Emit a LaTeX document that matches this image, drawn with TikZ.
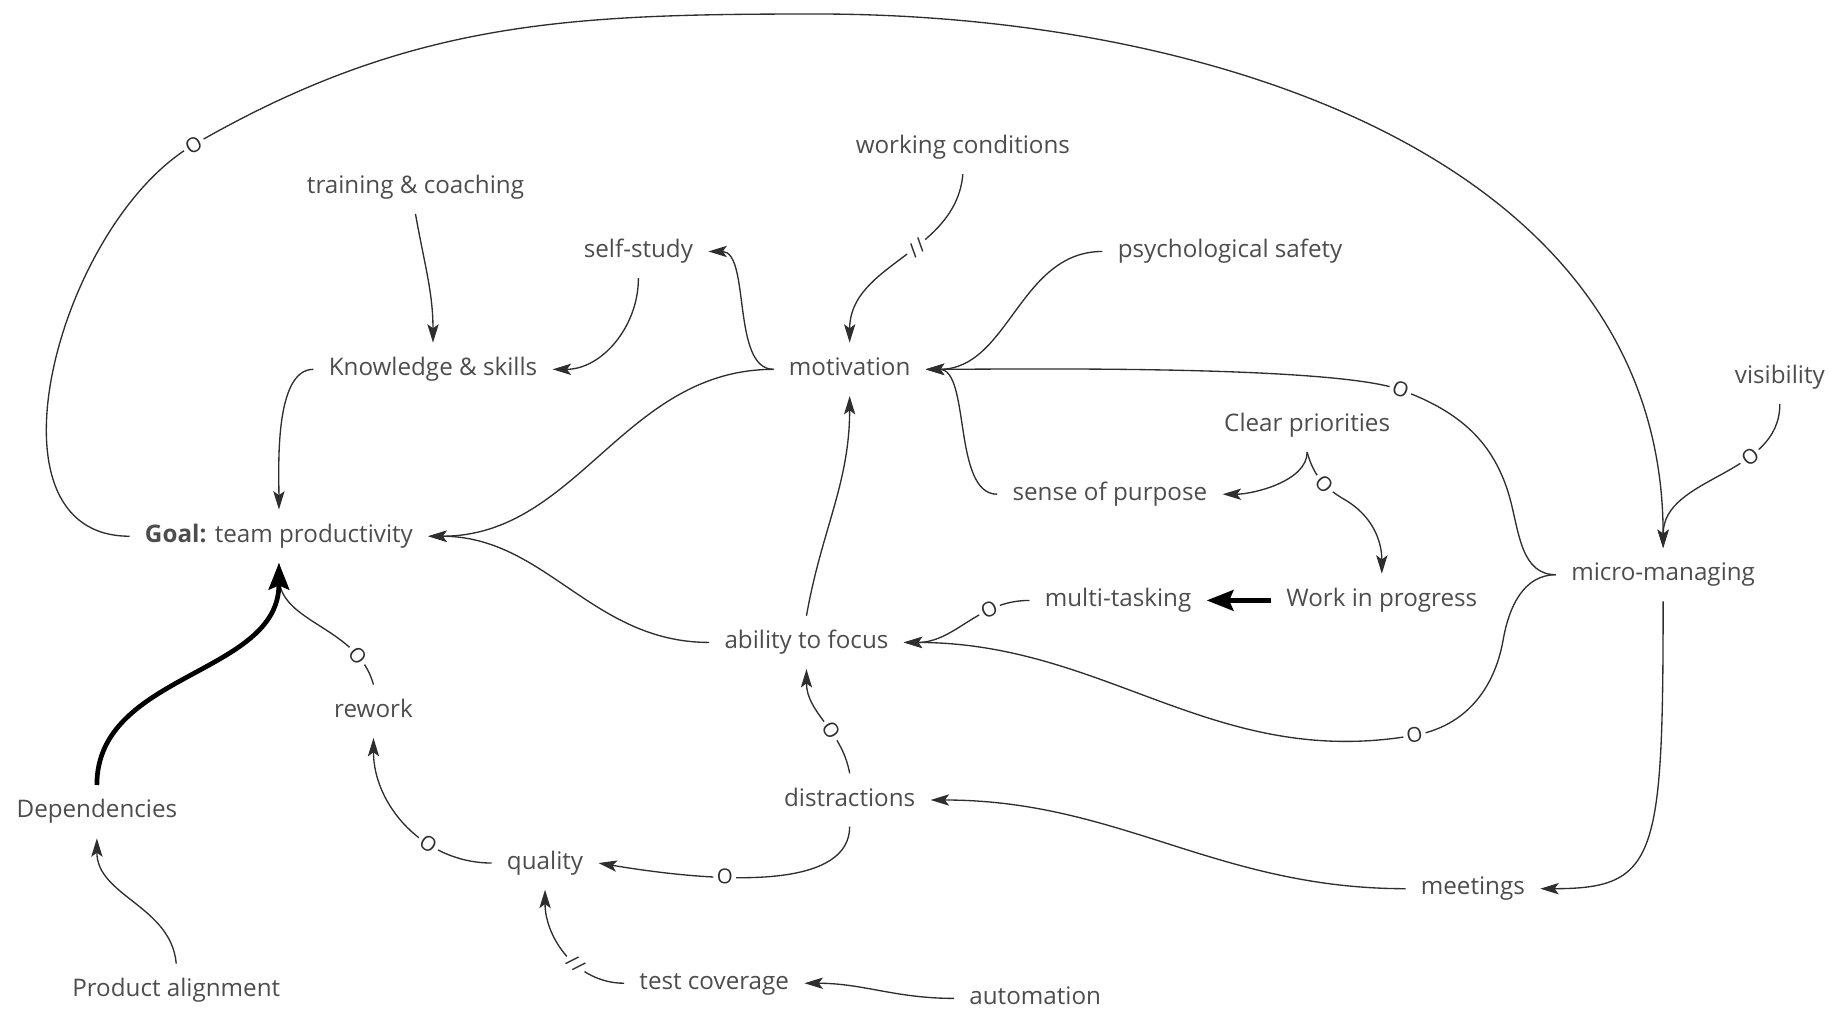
\documentclass[tikz,border=0pt]{standalone}
\usepackage{fontspec}
\setmainfont{Open Sans}
\usetikzlibrary{arrows.meta}
\definecolor{textgray}{HTML}{4D4D4D}
\definecolor{linegray}{HTML}{2E2E2E}
\tikzset{
    var/.style={
        font=\fontsize{11.8}{14}\selectfont,
        text=textgray,
        text height=8.5pt, text depth=2.5pt, yshift=-1.4pt,
        inner xsep=6pt, inner ysep=6pt, outer sep=1.5pt},
    link/.style={
        draw=linegray, line width=0.65pt,
        -{Stealth[length=9pt,width=5.5pt,inset=2pt]}},
    strong/.style={
        draw=black, line width=2.3pt,
        -{Stealth[length=13pt,width=10pt,inset=2pt]}},
    opp/.style={
        sloped, fill=white, inner sep=1.6pt,
        font=\fontsize{10}{10}\selectfont, text=linegray},
    delay/.style={
        opp, font=\fontsize{9.5}{9.5}\selectfont}}

\begin{document}
\begin{tikzpicture}[x=0.2mm,y=-0.2mm]
    \useasboundingbox (0,0) rectangle (1568,866);

    \node[var] (train) at (356,158) {training \& coaching};
    \node[var] (selfstudy) at (547,213) {self-study};
    \node[var] (workcond) at (825,124) {working conditions};
    \node[var] (psych) at (1054,213) {psychological safety};
    \node[var] (know) at (371,314) {Knowledge \& skills};
    \node[var] (motiv) at (728,314) {motivation};
    \node[var] (visib) at (1525,321) {visibility};
    \node[var] (clear) at (1120,362) {Clear priorities};
    \node[var] (purpose) at (951,421) {sense of purpose};
    \node[var] (goal) at (239,457) {\textbf{Goal:} team productivity};
    \node[var] (micro) at (1425,490) {micro-managing};
    \node[var] (multi) at (958,512) {multi-tasking};
    \node[var] (wip) at (1184,512) {Work in progress};
    \node[var] (focus) at (691,548) {ability to focus};
    \node[var] (rework) at (320,607) {rework};
    \node[var] (distr) at (728,683) {distractions};
    \node[var] (depend) at (83,693) {Dependencies};
    \node[var] (quality) at (467,737) {quality};
    \node[var] (meetings) at (1262,759) {meetings};
    \node[var] (testcov) at (612,840) {test coverage};
    \node[var] (product) at (151,846) {Product alignment};
    \node[var] (automation) at (887,853) {automation};

    % long loop over the top
    \draw[link] (goal.west) to[out=180,in=210] (166,124)
        to[out=30,in=180] node[opp,pos=0] {O} (700,12)
        to[out=0,in=90] (micro.north);
    \draw[link] (visib.south) to[out=-90,in=90] node[opp,pos=0.33] {O} (micro.north);

    \draw[link] (train.south) to[out=-80,in=90] (know.north);
    \draw[link] (selfstudy.south) to[out=-90,in=0] (know.east);
    \draw[link] (know.west) to[out=180,in=90,looseness=0.7] (goal.north);
    \draw[link] (motiv.west) to[out=180,in=0,looseness=0.8] (selfstudy.east);
    \draw[link] (motiv.west) to[out=180,in=0] (goal.east);

    % into motivation
    \draw[link] (workcond.south) to[out=-95,in=90] node[delay,pos=0.42] {/\kern1pt/} (motiv.north);
    \draw[link] (psych.west) to[out=180,in=0] (motiv.east);
    \draw[link] (purpose.west) to[out=180,in=0,looseness=0.8] (motiv.east);
    \draw[link] (micro.west) to[out=180,in=-75] (1294,428)
        to[out=105,in=-20] (1200,334)
        to[out=160,in=0,looseness=0.4] node[opp,pos=0] {O} (motiv.east);

    \draw[link] (clear.south) to[out=-90,in=0,looseness=0.8] (purpose.east);
    \draw[link] (clear.south) to[out=-75,in=150] node[opp,pos=0.6] {O} (1152,428)
        to[out=-30,in=90] (wip.north);
    \draw[strong] (wip.west) -- (multi.east);

    % into ability to focus
    \draw[link] (multi.west) to[out=180,in=0] node[opp,pos=0.3] {O} (focus.east);
    \draw[link] (micro.west) to[out=180,in=80] (1288,548)
        to[out=260,in=10] (1212,630)
        to[out=190,in=0] node[opp,pos=0] {O} (focus.east);
    \draw[link] (distr.north) to[out=100,in=-90] node[opp,pos=0.4] {O} (focus.south);
    \draw[link] (focus.west) to[out=180,in=0] (goal.east);
    \draw[link] (focus.north) to[out=80,in=-90] (motiv.south);

    \draw[link] (micro.south) .. controls +(0,220) and +(100,0) .. (meetings.east);
    \draw[link] (meetings.west) to[out=180,in=0] (distr.east);

    % lower left
    \draw[link] (distr.south) .. controls +(0,50) and +(120,20) .. node[opp,pos=0.67] {O} (quality.east);
    \draw[link] (quality.west) to[out=180,in=-90] node[opp,pos=0.35] {O} (rework.south);
    \draw[link] (rework.north) to[out=105,in=-90] node[opp,pos=0.2] {O} (goal.south);
    \draw[strong] (depend.north) to[out=90,in=-90] (goal.south);
    \draw[link] (product.north) to[out=95,in=-90] (depend.south);
    \draw[link] (testcov.west) to[out=180,in=-90] node[delay,pos=0.4] {/\kern1pt/} (quality.south);
    \draw[link] (automation.west) to[out=180,in=0] (testcov.east);
\end{tikzpicture}
\end{document}
